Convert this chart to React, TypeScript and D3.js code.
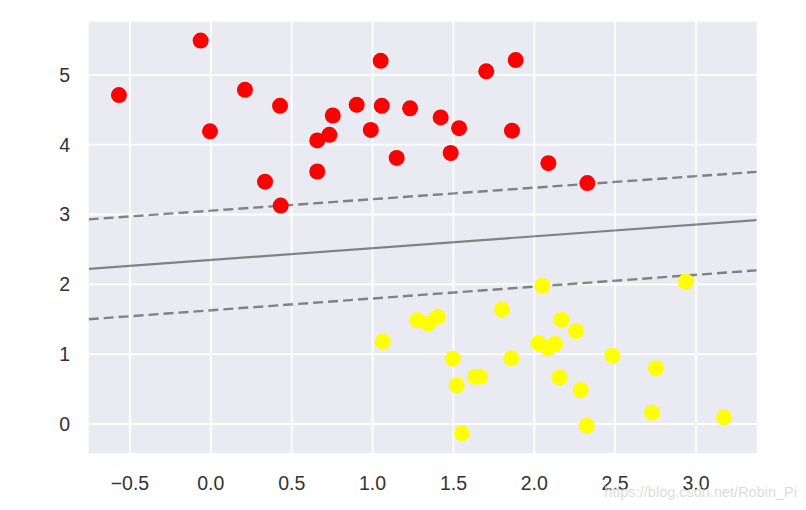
import React from "react";
import * as d3 from "d3";

const redX = [-0.568, -0.063, -0.005, 0.211, 0.428, 0.335, 0.432, 0.658, 0.658, 0.733, 0.754, 0.902, 0.989, 1.05, 1.057, 1.149, 1.232, 1.421, 1.483, 1.535, 1.703, 1.885, 1.862, 2.087, 2.328];
const redY = [4.71, 5.49, 4.19, 4.785, 4.556, 3.47, 3.127, 4.06, 3.615, 4.14, 4.417, 4.57, 4.21, 5.2, 4.556, 3.81, 4.52, 4.39, 3.88, 4.235, 5.05, 5.21, 4.2, 3.735, 3.45];
const yellowX = [1.063, 1.277, 1.345, 1.403, 1.496, 1.52, 1.553, 1.634, 1.664, 1.8, 1.858, 2.05, 2.025, 2.083, 2.128, 2.167, 2.155, 2.258, 2.287, 2.324, 2.483, 2.751, 2.728, 2.937, 3.173];
const yellowY = [1.18, 1.486, 1.437, 1.537, 0.936, 0.554, -0.134, 0.678, 0.678, 1.64, 0.94, 1.98, 1.156, 1.085, 1.146, 1.49, 0.669, 1.332, 0.487, -0.024, 0.979, 0.798, 0.162, 2.04, 0.096];

const lineX = [-0.755, 3.375];
const boundaryY = [2.22, 2.92];
const upperMarginY = [2.93, 3.61];
const lowerMarginY = [1.5, 2.2];

const xTicks = [-0.5, 0.0, 0.5, 1.0, 1.5, 2.0, 2.5, 3.0];
const xTickLabels = ["\u22120.5", "0.0", "0.5", "1.0", "1.5", "2.0", "2.5", "3.0"];
const yTicks = [0, 1, 2, 3, 4, 5];
const yTickLabels = ["0", "1", "2", "3", "4", "5"];

const W = 806, H = 510;
const L = 88.7, R = 756.7, T = 21.7, B = 453;

export default function App() {
  const x = d3.scaleLinear().domain([-0.755, 3.375]).range([L, R]);
  const y = d3.scaleLinear().domain([-0.415, 5.76]).range([B, T]);
  const line = d3.line<[number, number]>().x(d => x(d[0])).y(d => y(d[1]));
  const mk = (ys: number[]) => line(lineX.map((v, i) => [v, ys[i]] as [number, number])) || "";
  const font = "'Liberation Sans', Arial, sans-serif";
  return (
    <svg width={W} height={H} style={{ position: "absolute", left: 0, top: 0, background: "#fff" }}>
      <rect x={L} y={T} width={R - L} height={B - T} fill="#EAEAF2" />
      {xTicks.map(t => (
        <line key={"gx" + t} x1={x(t)} x2={x(t)} y1={T} y2={B} stroke="#fff" strokeWidth={1.8} />
      ))}
      {yTicks.map(t => (
        <line key={"gy" + t} x1={L} x2={R} y1={y(t)} y2={y(t)} stroke="#fff" strokeWidth={1.8} />
      ))}
      <g clipPath="url(#clip)">
        <clipPath id="clip"><rect x={L} y={T} width={R - L} height={B - T} /></clipPath>
        <path d={mk(boundaryY)} fill="none" stroke="#000" strokeOpacity={0.45} strokeWidth={2.2} />
        <path d={mk(upperMarginY)} fill="none" stroke="#000" strokeOpacity={0.45} strokeWidth={2.4} strokeDasharray="10,5" />
        <path d={mk(lowerMarginY)} fill="none" stroke="#000" strokeOpacity={0.45} strokeWidth={2.4} strokeDasharray="10,5" />
        {redX.map((v, i) => (
          <circle key={"r" + i} cx={x(v)} cy={y(redY[i])} r={8} fill="#ff0000" />
        ))}
        {yellowX.map((v, i) => (
          <circle key={"yl" + i} cx={x(v)} cy={y(yellowY[i])} r={8} fill="#ffff00" />
        ))}
      </g>
      {xTicks.map((t, i) => (
        <text key={"xl" + t} x={x(t)} y={490} textAnchor="middle" fontFamily={font} fontSize={19.5} fill="#333">{xTickLabels[i]}</text>
      ))}
      {yTicks.map((t, i) => (
        <text key={"yl" + t} x={70} y={y(t)} dy="0.36em" textAnchor="end" fontFamily={font} fontSize={19.5} fill="#333">{yTickLabels[i]}</text>
      ))}
      <text x={797} y={497} textAnchor="end" fontFamily={font} fontSize={14.5} fill="#d8d8d8" fillOpacity={0.9}>https://blog.csdn.net/Robin_Pi</text>
    </svg>
  );
}
